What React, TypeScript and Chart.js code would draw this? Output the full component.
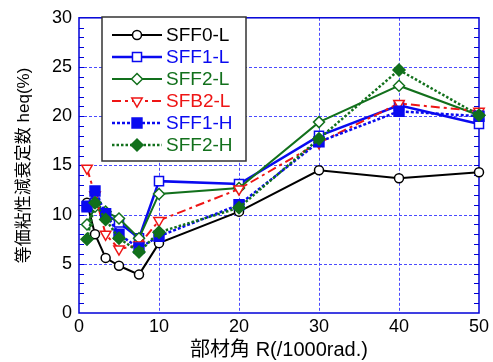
import React, { useEffect, useRef } from 'react';
import { Chart, registerables } from 'chart.js';
import { drawPoint } from 'chart.js/helpers';

Chart.register(...registerables);

// ---- data ----
const xValues = [1, 2, 3.33, 5, 7.5, 10, 20, 30, 40, 50];
const seriesNames = ['SFF0-L', 'SFF1-L', 'SFF2-L', 'SFB2-L', 'SFF1-H', 'SFF2-H'];
const sff0L = [11.2, 8.0, 5.6, 4.8, 3.9, 7.1, 10.3, 14.5, 13.7, 14.3];
const sff1L = [10.9, 11.2, 10.0, 9.2, 7.6, 13.4, 13.1, 18.0, 21.1, 19.2];
const sff2L = [9.0, 10.8, 10.3, 9.6, 7.6, 12.1, 12.7, 19.4, 23.1, 20.1];
const sfb2L = [14.7, 12.0, 8.0, 6.5, 6.9, 9.4, 12.6, 17.3, 21.3, 20.5];
const sff1H = [10.8, 12.4, 10.1, 8.0, 6.6, 7.8, 11.0, 17.4, 20.5, 20.0];
const sff2H = [7.5, 11.2, 9.5, 7.6, 6.2, 8.2, 10.7, 17.7, 24.7, 20.1];
const xTicks = [0, 10, 20, 30, 40, 50];
const yTicks = [0, 5, 10, 15, 20, 25, 30];
const xGridValues = [10, 20, 30, 40];
const yGridValues = [5, 10, 15, 20, 25];
const xTitle = '部材角 R(/1000rad.)';
const yTitle = '等価粘性減衰定数 heq(%)';

const BLACK = '#000000';
const BLUE = '#0a0af0';
const GREEN = '#12701c';
const RED = '#ee1515';
const FONT = '"Liberation Sans", Arial, "Noto Sans CJK JP", sans-serif';

type Style = {
  color: string;
  width: number;
  dash: number[];
  pointStyle: string;
  radius: number;
  rotation: number;
  filled: boolean;
};

const styles: Style[] = [
  { color: BLACK, width: 2, dash: [], pointStyle: 'circle', radius: 4.5, rotation: 0, filled: false },
  { color: BLUE, width: 2.5, dash: [], pointStyle: 'rect', radius: 6.4, rotation: 0, filled: false },
  { color: GREEN, width: 2, dash: [], pointStyle: 'rectRot', radius: 5.5, rotation: 0, filled: false },
  { color: RED, width: 2, dash: [9, 4, 3, 4], pointStyle: 'triangle', radius: 6, rotation: 180, filled: false },
  { color: BLUE, width: 2.5, dash: [3, 2], pointStyle: 'rect', radius: 7, rotation: 0, filled: true },
  { color: GREEN, width: 2.5, dash: [2.5, 2], pointStyle: 'rectRot', radius: 6, rotation: 0, filled: true },
];

const seriesValues = [sff0L, sff1L, sff2L, sfb2L, sff1H, sff2H];

const framePlugin = {
  id: 'frameGrid',
  beforeDatasetsDraw(chart: any) {
    const { ctx, chartArea: a, scales } = chart;
    const x = scales.x;
    const y = scales.y;
    ctx.save();
    ctx.strokeStyle = '#4a4aff';
    ctx.lineWidth = 1;
    ctx.setLineDash([3, 2]);
    for (const v of yGridValues) {
      const py = Math.round(y.getPixelForValue(v)) + 0.5;
      ctx.beginPath();
      ctx.moveTo(a.left, py);
      ctx.lineTo(a.right, py);
      ctx.stroke();
    }
    for (const v of xGridValues) {
      const px = Math.round(x.getPixelForValue(v)) + 0.5;
      ctx.beginPath();
      ctx.moveTo(px, a.top);
      ctx.lineTo(px, a.bottom);
      ctx.stroke();
    }
    ctx.setLineDash([]);
    ctx.strokeStyle = '#0000d8';
    ctx.lineWidth = 1;
    for (let v = 1; v < 30; v++) {
      const py = Math.round(y.getPixelForValue(v)) + 0.5;
      ctx.beginPath();
      ctx.moveTo(a.left, py);
      ctx.lineTo(a.left + 5, py);
      ctx.moveTo(a.right, py);
      ctx.lineTo(a.right - 5, py);
      ctx.stroke();
    }
    ctx.lineWidth = 1.5;
    ctx.strokeRect(a.left, a.top, a.right - a.left, a.bottom - a.top);
    ctx.restore();
  },
};

const legendPlugin = {
  id: 'boxLegend',
  afterDatasetsDraw(chart: any) {
    const { ctx } = chart;
    const left = 102;
    const top = 17;
    const w = 144;
    const h = 144;
    ctx.save();
    ctx.fillStyle = '#ffffff';
    ctx.fillRect(left, top, w, h);
    ctx.strokeStyle = '#333333';
    ctx.lineWidth = 1.5;
    ctx.setLineDash([]);
    ctx.strokeRect(left, top, w, h);
    seriesNames.forEach((name, i) => {
      const s = styles[i];
      const cy = top + 18 + i * 22;
      ctx.strokeStyle = s.color;
      ctx.lineWidth = s.width;
      ctx.setLineDash(s.dash);
      ctx.beginPath();
      ctx.moveTo(left + 10, cy);
      ctx.lineTo(left + 60, cy);
      ctx.stroke();
      ctx.setLineDash([]);
      ctx.lineWidth = 1.5;
      ctx.fillStyle = s.filled ? s.color : '#ffffff';
      drawPoint(ctx, { pointStyle: s.pointStyle, rotation: s.rotation, radius: s.radius, borderWidth: 1.5 } as any, left + 35, cy);
      ctx.fillStyle = s.color;
      ctx.font = `19px ${FONT}`;
      ctx.textBaseline = 'middle';
      ctx.textAlign = 'left';
      ctx.fillText(name, left + 64, cy + 1);
    });
    ctx.restore();
  },
};

export default function App() {
  const ref = useRef<HTMLCanvasElement | null>(null);
  useEffect(() => {
    const canvas = ref.current;
    if (!canvas) return;
    const datasets = seriesNames.map((name, i) => {
      const s = styles[i];
      return {
        label: name,
        data: xValues.map((xv, j) => ({ x: xv, y: seriesValues[i][j] })),
        borderColor: s.color,
        backgroundColor: s.color,
        borderWidth: s.width,
        borderDash: s.dash,
        pointStyle: s.pointStyle,
        pointRadius: s.radius,
        pointRotation: s.rotation,
        pointBorderWidth: 1.5,
        pointBorderColor: s.color,
        pointBackgroundColor: s.filled ? s.color : '#ffffff',
        fill: false,
        tension: 0,
        clip: false,
        order: seriesNames.length - i,
      };
    });
    const chart = new Chart(canvas, {
      type: 'line',
      data: { datasets } as any,
      options: {
        responsive: false,
        animation: false,
        devicePixelRatio: 1,
        layout: { padding: { top: 13, right: 14, left: 0, bottom: 0 } },
        plugins: { legend: { display: false }, tooltip: { enabled: false } },
        scales: {
          x: {
            type: 'linear',
            min: 0,
            max: 50,
            afterBuildTicks: (s: any) => {
              s.ticks = xTicks.map((v) => ({ value: v }));
            },
            afterFit: (s: any) => {
              s.height = 49;
            },
            grid: { display: false, drawTicks: false },
            border: { display: false },
            ticks: { color: '#000', font: { family: FONT, size: 18 }, padding: 3, maxRotation: 0, autoSkip: false },
            title: { display: true, text: xTitle, color: '#000', font: { family: FONT, size: 20 }, padding: { top: 0, bottom: 0 } },
          },
          y: {
            type: 'linear',
            min: 0,
            max: 30,
            afterBuildTicks: (s: any) => {
              s.ticks = yTicks.map((v) => ({ value: v }));
            },
            afterFit: (s: any) => {
              s.width = 79;
            },
            grid: { display: false, drawTicks: false },
            border: { display: false },
            ticks: { color: '#000', font: { family: FONT, size: 18 }, padding: 7, autoSkip: false },
            title: { display: true, text: yTitle, color: '#000', font: { family: FONT, size: 17 }, padding: { top: 14, bottom: 0 } },
          },
        },
      } as any,
      plugins: [framePlugin, legendPlugin],
    });
    return () => chart.destroy();
  }, []);
  return (
    <div style={{ position: 'fixed', left: 0, top: 0, width: 493, height: 362, background: '#fff' }}>
      <canvas ref={ref} width={493} height={362} style={{ display: 'block' }} />
    </div>
  );
}
